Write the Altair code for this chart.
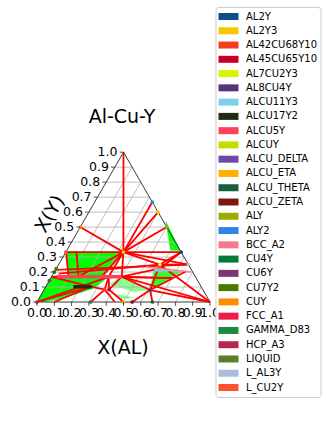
import math
import altair as alt
import pandas as pd

# ---------------- data ----------------
title_text = "Al-Cu-Y"
x_title = "X(AL)"
y_title = "X(Y)"

ticks = [0.0, 0.1, 0.2, 0.3, 0.4, 0.5, 0.6, 0.7, 0.8, 0.9, 1.0]
tick_labels = ["0.0", "0.1", "0.2", "0.3", "0.4", "0.5", "0.6", "0.7", "0.8", "0.9", "1.0"]

phases = ["AL2Y", "AL2Y3", "AL42CU68Y10", "AL45CU65Y10", "AL7CU2Y3", "AL8CU4Y",
          "ALCU11Y3", "ALCU17Y2", "ALCU5Y", "ALCUY", "ALCU_DELTA", "ALCU_ETA",
          "ALCU_THETA", "ALCU_ZETA", "ALY", "ALY2", "BCC_A2", "CU4Y", "CU6Y",
          "CU7Y2", "CUY", "FCC_A1", "GAMMA_D83", "HCP_A3", "LIQUID", "L_AL3Y", "L_CU2Y"]
phase_colors = ["#0b4f8a", "#f5c800", "#f23d1e", "#c8002a", "#d8f400", "#55357a",
                "#7ecfe8", "#232a18", "#ff3f5e", "#c5dc00", "#7048a8", "#ffb000",
                "#1a5e38", "#7d1510", "#9aad00", "#2e85e8", "#f47a90", "#007a38",
                "#7b3870", "#4b7800", "#ff8c00", "#ef1e48", "#1a8a40", "#b52650",
                "#5b7e2c", "#a8bedb", "#fc5331"]

# named compositions (X(AL), X(Y))
pt_name = ["Y", "P", "Cu2Y", "CuY", "AlY", "Al2Y3", "AlY2", "Al2Y", "Al3Y", "Al", "Cu",
           "A723", "A84", "pinkR", "pinkL", "s1", "s2", "s3", "s4", "w2", "c1", "c2",
           "c3", "g45", "g42", "gam", "eta", "zeta", "theta", "b1", "b2", "r1", "r2",
           "l1", "l2", "l3"]
pt_al = [0.0, 0.333, 0.0, 0.0, 0.5, 0.4, 0.333, 0.667, 0.75, 1.0, 0.0,
         0.585, 0.614, 0.405, 0.0, 0.0, 0.06, 0.155, 0.097, 0.29, 0.0, 0.33,
         0.26, 0.375, 0.35, 0.31, 0.50, 0.55, 0.667, 0.45, 0.70, 0.60, 0.76,
         0.0, 0.03, 0.10]
pt_y = [1.0, 0.333, 0.333, 0.5, 0.5, 0.6, 0.667, 0.333, 0.25, 0.0, 0.0,
        0.25, 0.08, 0.169, 0.169, 0.336, 0.336, 0.17, 0.17, 0.17, 0.168, 0.168,
        0.102, 0.083, 0.083, 0.0, 0.0, 0.0, 0.0, 0.0, 0.16, 0.225, 0.205,
        0.215, 0.19, 0.0]

# red three-phase tie-triangle edges
red_from = ["Y", "Cu2Y", "P", "CuY", "AlY", "Al2Y3", "AlY2", "P", "A723", "A723", "A723",
            "A723", "P", "pinkR", "A84", "A84", "A84", "pinkR", "g42", "P", "P", "s1",
            "s2", "Cu", "c2", "c3", "c2", "g42", "pinkR", "w2", "P", "A84", "g45", "pinkR",
            "P", "s3", "c1", "l1", "l2", "Al", "Cu", "l3", "Al2Y", "pinkL"]
red_to = ["P", "P", "Al2Y", "P", "P", "P", "P", "A723", "Al2Y", "Al3Y", "Al",
          "A84", "pinkR", "A84", "Al", "theta", "zeta", "g45", "b1", "s3", "w2", "s4",
          "s3", "c2", "g42", "g42", "g45", "gam", "r1", "b2", "Al3Y", "r2", "eta", "b2",
          "c2", "c2", "c3", "Al3Y", "A723", "pinkR", "c3", "c3", "r1", "s4"]

# green two-phase regions (dense tie lines), polygons
poly_id = [1, 1, 1, 1,
           2, 2, 2, 2,
           3, 3, 3, 3, 3, 3,
           4, 4, 4,
           5, 5, 5,
           6, 6, 6, 6,
           7, 7, 7]
poly_al = [0.0, 0.06, 0.155, 0.097,
           0.06, 0.333, 0.29, 0.16,
           0.0, 0.0, 0.33, 0.28, 0.12, 0.03,
           0.475, 0.60, 0.655,
           0.614, 0.57, 0.735,
           0.405, 0.36, 0.52, 0.614,
           0.40, 0.47, 0.55]
poly_y = [0.336, 0.336, 0.17, 0.17,
          0.333, 0.333, 0.17, 0.17,
          0.0, 0.168, 0.168, 0.09, 0.02, 0.0,
          0.54, 0.345, 0.345,
          0.08, 0.213, 0.20,
          0.169, 0.12, 0.07, 0.08,
          0.06, 0.02, 0.03]
poly_opacity = [1.0, 1.0, 1.0, 1.0, 0.85, 0.45, 0.45]

# single-phase boundary bands
band_phase = ["ALCU17Y2", "ALCU5Y", "ALCU11Y3", "BCC_A2"]
band_al1 = [0.159, 0.03, 0.57, 0.51]
band_al2 = [0.265, 0.405, 0.66, 0.79]
band_y1 = [0.102, 0.169, 0.213, 0.235]
band_y2 = [0.102, 0.169, 0.213, 0.20]
band_w = [3.5, 3.5, 3.0, 1.5]

dot_phase = ["AL2Y", "AL2Y3", "AL42CU68Y10", "AL45CU65Y10", "AL7CU2Y3", "AL8CU4Y",
             "ALCUY", "ALY", "ALY2", "CUY", "CU7Y2", "CU4Y", "CU6Y", "FCC_A1",
             "GAMMA_D83", "ALCU_ETA", "ALCU_ZETA", "ALCU_THETA", "L_AL3Y", "L_CU2Y"]
dot_al = [0.667, 0.4, 0.35, 0.375, 0.585, 0.614, 0.333, 0.5, 0.333, 0.0, 0.0, 0.0,
          0.0, 0.0, 0.31, 0.5, 0.55, 0.667, 0.75, 0.0]
dot_y = [0.333, 0.6, 0.083, 0.083, 0.25, 0.08, 0.333, 0.5, 0.667, 0.5, 0.222, 0.2,
         0.143, 0.0, 0.0, 0.0, 0.0, 0.0, 0.25, 0.333]

# ---------------- geometry helpers ----------------
S3 = math.sqrt(3) / 2
X0, BASE, SIDE, W, H = 37.0, 302.0, 173.0, 328, 431
x_dom = [-X0 / SIDE, (W - X0) / SIDE]
y_dom = [(BASE - H) / SIDE, BASE / SIDE]
xs = alt.Scale(domain=x_dom, nice=False, zero=False)
ys = alt.Scale(domain=y_dom, nice=False, zero=False)

pts = dict(zip(pt_name, zip(pt_al, pt_y)))

red_df = pd.DataFrame({
    "a1": [pts[n][0] for n in red_from], "b1": [pts[n][1] for n in red_from],
    "a2": [pts[n][0] for n in red_to], "b2": [pts[n][1] for n in red_to]})

poly_df = pd.DataFrame({"pid": poly_id, "a": poly_al, "b": poly_y,
                        "k": list(range(len(poly_id)))})
poly_df["op"] = [poly_opacity[i - 1] for i in poly_id]

band_df = pd.DataFrame({"phase": band_phase, "a1": band_al1, "a2": band_al2,
                        "b1": band_y1, "b2": band_y2, "w": band_w})
dot_df = pd.DataFrame({"phase": dot_phase, "a": dot_al, "b": dot_y})
tick_df = pd.DataFrame({"t": ticks, "lab": tick_labels})

FONT = "DejaVu Sans"


def seg_chart(df):
    return alt.Chart(df).transform_calculate(
        x1="datum.a1 + datum.b1/2", y1=f"datum.b1*{S3}",
        x2="datum.a2 + datum.b2/2", y2=f"datum.b2*{S3}")


def seg_enc(ch):
    return ch.encode(x=alt.X("x1:Q", scale=xs, axis=None),
                     y=alt.Y("y1:Q", scale=ys, axis=None), x2="x2:Q", y2="y2:Q")


color_scale = alt.Scale(domain=phases, range=phase_colors)

legend = alt.Legend(
    orient="none", legendX=215.5, legendY=7, title=None,
    symbolType="M-1.667,-0.583L1.667,-0.583L1.667,0.583L-1.667,0.583Z", symbolSize=144,
    symbolStrokeWidth=0, symbolOpacity=1, symbolOffset=3.5, labelFont=FONT, labelFontSize=10,
    labelColor="#000000", rowPadding=3.27, padding=3.5, strokeColor="#cccccc",
    fillColor="#ffffff", cornerRadius=3, labelOffset=11.5, values=phases,
    labelLimit=200)

# grid lines: horizontal (constant Y) and constant AL
grid_h = seg_enc(alt.Chart(tick_df).transform_filter("datum.t > 0.05 && datum.t < 0.95").transform_calculate(
    x1="datum.t/2", y1=f"datum.t*{S3}", x2="1 - datum.t/2", y2=f"datum.t*{S3}"
).mark_rule(color="#b0b0b0", strokeWidth=0.8))
grid_d = seg_enc(alt.Chart(tick_df).transform_filter("datum.t > 0.05 && datum.t < 0.95").transform_calculate(
    x1="datum.t", y1="0", x2="datum.t + (1-datum.t)/2", y2=f"(1-datum.t)*{S3}"
).mark_rule(color="#b0b0b0", strokeWidth=0.8))

# triangle outline
edge_df = pd.DataFrame({"a1": [0.0, 1.0, 0.0], "b1": [0.0, 0.0, 1.0],
                        "a2": [1.0, 0.0, 0.0], "b2": [0.0, 1.0, 0.0]})
edges = seg_enc(seg_chart(edge_df).mark_rule(color="#222222", strokeWidth=0.9))

# green two-phase polygons
green = alt.Chart(poly_df).transform_calculate(
    cx="datum.a + datum.b/2", cy=f"datum.b*{S3}"
).mark_line(fill="#00ff00", stroke="#00ff00", strokeWidth=0.6).encode(
    x=alt.X("cx:Q", scale=xs, axis=None), y=alt.Y("cy:Q", scale=ys, axis=None),
    detail="pid:N", order="k:Q", opacity=alt.Opacity("op:Q", scale=None))

# red tie triangles
red = seg_enc(seg_chart(red_df).mark_rule(color="#ff0000", strokeWidth=1.8))

dots = alt.Chart(dot_df).transform_calculate(
    cx="datum.a + datum.b/2", cy=f"datum.b*{S3}"
).mark_point(filled=True, size=14, opacity=1).encode(
    x=alt.X("cx:Q", scale=xs, axis=None), y=alt.Y("cy:Q", scale=ys, axis=None),
    color=alt.Color("phase:N", scale=color_scale, legend=legend))

bands = seg_chart(band_df).mark_rule().encode(
    x=alt.X("x1:Q", scale=xs, axis=None), y=alt.Y("y1:Q", scale=ys, axis=None), x2="x2:Q", y2="y2:Q",
    color=alt.Color("phase:N", scale=color_scale, legend=legend),
    strokeWidth=alt.StrokeWidth("w:Q", scale=None))

# ticks
bt = alt.Chart(tick_df).transform_calculate(x1="datum.t", y1="0", y2="-0.022").mark_rule(
    color="#222222", strokeWidth=0.8).encode(
    x=alt.X("x1:Q", scale=xs, axis=None), y=alt.Y("y1:Q", scale=ys, axis=None), y2="y2:Q")
lt = alt.Chart(tick_df).transform_calculate(
    x1="datum.t/2", x2="datum.t/2 - 0.022", y1=f"datum.t*{S3}").mark_rule(
    color="#222222", strokeWidth=0.8).encode(
    x=alt.X("x1:Q", scale=xs, axis=None), y=alt.Y("y1:Q", scale=ys, axis=None), x2="x2:Q")

bl = alt.Chart(tick_df).transform_calculate(x1="datum.t", y1="0").mark_text(
    font=FONT, fontSize=12.5, baseline="middle", align="center", dy=11, color="#000000").encode(
    x=alt.X("x1:Q", scale=xs, axis=None), y=alt.Y("y1:Q", scale=ys, axis=None), text="lab:N")
ll = alt.Chart(tick_df).transform_calculate(x1="datum.t/2", y1=f"datum.t*{S3}").mark_text(
    font=FONT, fontSize=12.5, baseline="middle", align="right", dx=-6, color="#000000").encode(
    x=alt.X("x1:Q", scale=xs, axis=None), y=alt.Y("y1:Q", scale=ys, axis=None), text="lab:N")

lab_df = pd.DataFrame({"txt": [title_text, x_title, y_title]})
t_title = alt.Chart(lab_df).transform_filter(alt.datum.txt == title_text).mark_text(
    font=FONT, fontSize=19, baseline="middle", align="center", color="#000000").encode(
    x=alt.value(122), y=alt.value(117), text="txt:N")
t_x = alt.Chart(lab_df).transform_filter(alt.datum.txt == x_title).mark_text(
    font=FONT, fontSize=19, baseline="middle", align="center", color="#000000").encode(
    x=alt.value(123), y=alt.value(348), text="txt:N")
t_y = alt.Chart(lab_df).transform_filter(alt.datum.txt == y_title).mark_text(
    font=FONT, fontSize=19, baseline="middle", align="center", angle=300, color="#000000").encode(
    x=alt.value(50), y=alt.value(214), text="txt:N")

chart = alt.layer(
    green, grid_h, grid_d, edges, red, dots, bands, bt, lt, bl, ll, t_title, t_x, t_y
).properties(
    width=W, height=H, autosize=alt.AutoSizeParams(type="none"), padding=0
).configure_view(stroke=None)

chart.save("out.html", embed_options={"renderer": "svg", "actions": False})
